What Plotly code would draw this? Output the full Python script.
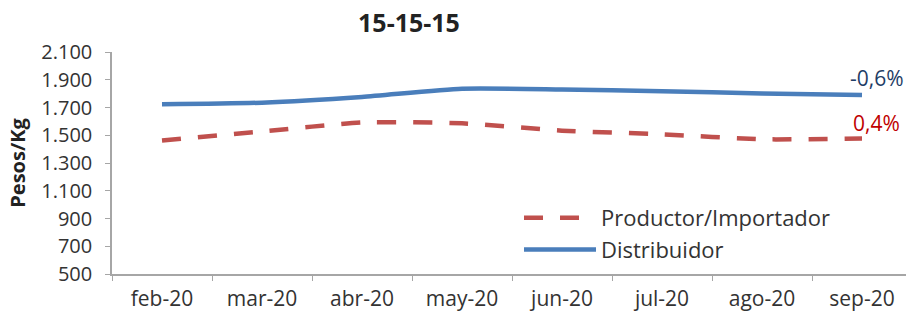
import plotly.graph_objects as go

months = ["feb-20", "mar-20", "abr-20", "may-20", "jun-20", "jul-20", "ago-20", "sep-20"]
productor = [1462, 1527, 1592, 1586, 1533, 1507, 1471, 1477]
distribuidor = [1723, 1735, 1776, 1835, 1830, 1818, 1801, 1790]
var_productor = "0,4%"
var_distribuidor = "-0,6%"
y_ticks = [500, 700, 900, 1100, 1300, 1500, 1700, 1900, 2100]

FONT = "Open Sans"
RED = "#c0504d"
BLUE = "#4a7ebb"
TXT = "#333333"

fig = go.Figure()
fig.add_trace(go.Scatter(
    x=months, y=productor, name="Productor/Importador", mode="lines",
    line=dict(color=RED, width=4.5, dash="19px,17px", shape="spline", smoothing=0.6),
))
fig.add_trace(go.Scatter(
    x=months, y=distribuidor, name="Distribuidor", mode="lines",
    line=dict(color=BLUE, width=4.5, shape="spline", smoothing=0.6),
))

fig.add_annotation(x=months[-1], y=distribuidor[-1], text=var_distribuidor,
                   showarrow=False, xanchor="left", yanchor="middle",
                   xshift=-14, yshift=17,
                   font=dict(family=FONT, size=21, color="#1f3d66"))
fig.add_annotation(x=months[-1], y=productor[-1], text=var_productor,
                   showarrow=False, xanchor="left", yanchor="middle",
                   xshift=-11, yshift=15,
                   font=dict(family=FONT, size=21, color="#c00000"))

fig.update_layout(
    width=906, height=312,
    margin=dict(l=112, r=0, t=52, b=38, autoexpand=False),
    paper_bgcolor="white", plot_bgcolor="white",
    separators=",.",
    font=dict(family=FONT, size=19, color=TXT),
    title=dict(text="<b>15-15-15</b>", xref="container", x=409 / 906,
               xanchor="center", yref="container", y=1 - 23 / 312, yanchor="middle",
               font=dict(family=FONT, size=25, color="#222222")),
    showlegend=True,
    legend=dict(x=0.5126, y=0.18, xref="paper", yref="paper",
                xanchor="left", yanchor="middle",
                font=dict(family=FONT, size=22, color=TXT),
                bgcolor="rgba(0,0,0,0)", itemwidth=72, tracegroupgap=0),
)
fig.update_xaxes(
    type="category", range=[-0.5, 7.44], tickangle=0, automargin=False,
    showline=True, linecolor="#a6a6a6", linewidth=1.5,
    ticks="outside", tickson="boundaries", ticklen=5, tickcolor="#a6a6a6",
    showgrid=False, zeroline=False, ticklabelstandoff=5,
    tickfont=dict(family=FONT, size=21, color=TXT),
)
fig.update_yaxes(
    range=[500, 2100], tickvals=y_ticks, tickformat=",d", automargin=False,
    showline=True, linecolor="#a6a6a6", linewidth=1.5,
    ticks="outside", ticklen=5, tickcolor="#a6a6a6",
    showgrid=False, zeroline=False, ticklabelstandoff=9,
    tickfont=dict(family=FONT, size=20, color=TXT),
    title=dict(text="<b>Pesos/Kg</b>", standoff=10,
               font=dict(family=FONT, size=20, color="#222222")),
)

fig.write_html("out.html", config={"displayModeBar": False},
               post_script="document.body.style.margin='0';")
